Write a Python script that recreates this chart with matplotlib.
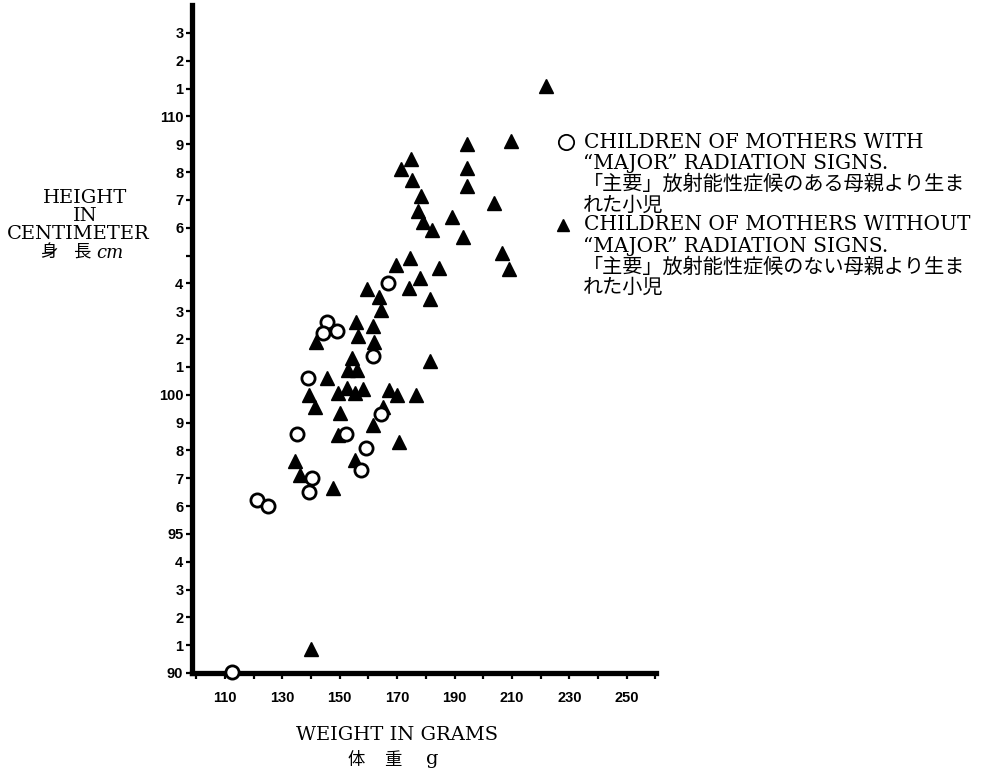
import matplotlib.pyplot as plt
from matplotlib.lines import Line2D
from matplotlib.ticker import MultipleLocator, FixedLocator

plt.rcParams['font.family'] = ['DejaVu Serif', 'Noto Sans CJK JP']

# children of mothers with "major" radiation signs: weight (g), height (cm)
major_weight = [112.3, 121.3, 125.1, 135.0, 139.0, 140.2, 139.4, 145.4,
                144.3, 148.9, 152.3, 161.7, 164.4, 159.1, 157.5, 166.9]
major_height = [90.05, 96.2, 96.0, 98.6, 100.6, 97.0, 96.5, 102.6,
                102.2, 102.3, 98.6, 101.4, 99.3, 98.1, 97.3, 104.0]

# children of mothers without "major" radiation signs
without_weight = [163.8, 164.5, 141.7, 155.6, 156.4, 161.7, 161.9, 154.1, 152.9, 156.0,
                  145.6, 139.4, 141.4, 149.5, 152.4, 155.3, 158.1, 167.1, 169.8, 176.6,
                  165.2, 150.1, 161.7, 149.5, 170.7, 155.3, 134.4, 136.1, 147.5, 140.0,
                  181.4, 181.4, 159.6, 174.2, 178.1, 169.5, 174.5, 184.7, 182.0, 189.1,
                  192.8, 206.4, 209.1, 203.8, 194.4, 194.4, 194.4, 209.7, 221.7, 174.7,
                  171.2, 175.1, 178.2, 177.4, 179.1]
without_height = [103.5, 103.05, 101.9, 102.6, 102.1, 102.45, 101.9, 101.3, 100.9, 100.9,
                  100.6, 100.0, 99.55, 100.05, 100.25, 100.05, 100.2, 100.15, 100.0, 100.0,
                  99.55, 99.35, 98.9, 98.55, 98.3, 97.65, 97.6, 97.1, 96.65, 90.85,
                  101.2, 103.45, 103.8, 103.85, 104.2, 104.65, 104.9, 104.55, 105.9, 106.4,
                  105.65, 105.1, 104.5, 106.9, 109.0, 108.15, 107.5, 109.1, 111.1, 108.45,
                  108.1, 107.7, 107.15, 106.6, 106.2]

x_ticks = [110, 130, 150, 170, 190, 210, 230, 250]
y_ticks = list(range(90, 114))
y_labels = ['90', '1', '2', '3', '4', '95', '6', '7', '8', '9',
            '100', '1', '2', '3', '4', '', '6', '7', '8', '9',
            '110', '1', '2', '3']

legend_lines = ['CHILDREN OF MOTHERS WITH', '\u201cMAJOR\u201d RADIATION SIGNS.',
                '「主要」放射能性症候のある母親より生ま', 'れた小児',
                'CHILDREN OF MOTHERS WITHOUT', '\u201cMAJOR\u201d RADIATION SIGNS.',
                '「主要」放射能性症候のない母親より生ま', 'れた小児']

W, H = 985, 775


def fx(px):
    return px / W


def fy(py):
    return 1 - py / H


fig = plt.figure(figsize=(9.85, 7.75), dpi=100)
ax = fig.add_axes([fx(191.7), fy(673), (656 - 191.7) / W, (673 - 5) / H])

ax.plot(without_weight, without_height, linestyle='none', marker='^', ms=9.5,
        color='black', clip_on=False, zorder=3)
ax.plot(major_weight, major_height, linestyle='none', marker='o', ms=9.5,
        mfc='white', mec='black', mew=2, clip_on=False, zorder=4)

ax.set_xlim(98.4, 260.2)
ax.set_ylim(90, 114)

for side in ['top', 'right']:
    ax.spines[side].set_visible(False)
for side in ['left', 'bottom']:
    ax.spines[side].set_linewidth(3.8)

ax.xaxis.set_major_locator(FixedLocator(x_ticks))
ax.xaxis.set_minor_locator(MultipleLocator(10))
ax.set_xticklabels([str(v) for v in x_ticks])
ax.yaxis.set_major_locator(FixedLocator(y_ticks))
ax.set_yticklabels(y_labels)

tick_font = dict(family='Liberation Sans', weight='bold', size=10.5)
ax.tick_params(axis='x', which='both', direction='out', length=4, width=1.6, pad=9)
ax.tick_params(axis='y', direction='out', length=4, width=1.6, pad=2)
for lab in ax.get_xticklabels() + ax.get_yticklabels():
    lab.set_fontproperties(tick_font)

# axis titles
txt = dict(ha='center', va='center', fontsize=14)
fig.text(fx(85), fy(198), 'HEIGHT', **txt)
fig.text(fx(85), fy(216), 'IN', **txt)
fig.text(fx(78), fy(234), 'CENTIMETER', **txt)
fig.text(fx(49), fy(252), '身', ha='center', va='center', fontsize=12.5)
fig.text(fx(82), fy(252), '長', ha='center', va='center', fontsize=12.5)
fig.text(fx(110), fy(253), 'cm', ha='center', va='center', fontsize=13, style='italic')

fig.text(fx(397), fy(735), 'WEIGHT IN GRAMS', **txt)
fig.text(fx(356), fy(760), '体', ha='center', va='center', fontsize=12.5)
fig.text(fx(393), fy(760), '重', ha='center', va='center', fontsize=12.5)
fig.text(fx(432), fy(759), 'g', ha='center', va='center', fontsize=14)

# legend
legend_y = [142, 163, 184, 205, 225, 246, 267, 287]
for i, (line, ly) in enumerate(zip(legend_lines, legend_y)):
    x0 = 584 if i in (0, 4) else 583
    size = 14.5 if i in (2, 6) else 14.5
    fig.text(fx(x0), fy(ly), line, ha='left', va='center', fontsize=size)
fig.add_artist(Line2D([fx(565.7)], [fy(142)], marker='o', ms=11, mfc='white',
                      mec='black', mew=1.3, transform=fig.transFigure))
fig.add_artist(Line2D([fx(563)], [fy(225)], marker='^', ms=8, color='black',
                      transform=fig.transFigure))

fig.savefig('out.png', dpi=100)
